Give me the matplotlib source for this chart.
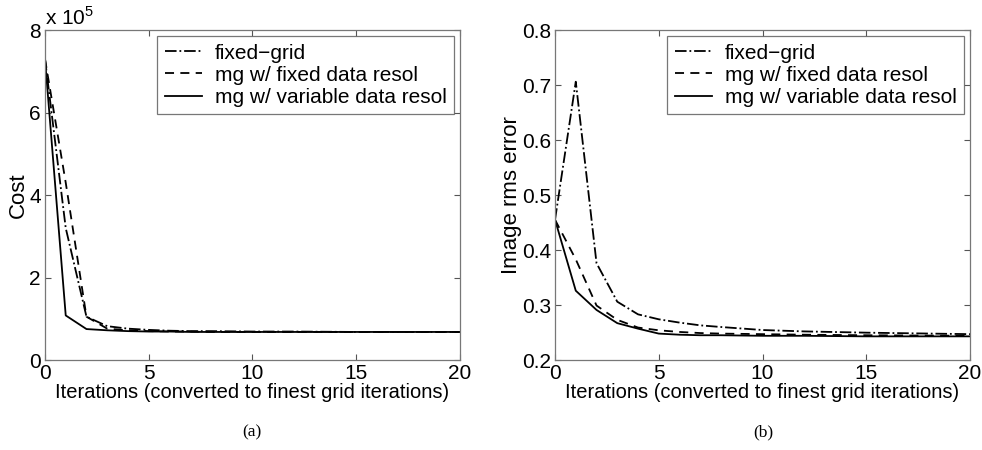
import matplotlib
matplotlib.use("Agg")
import matplotlib.pyplot as plt

iters = [0, 1, 2, 3, 4, 5, 6, 7, 8, 10, 12, 15, 20]

# (a) cost, units of 1e5
cost_fixed = [7.3, 3.2, 1.05, 0.82, 0.76, 0.73, 0.71, 0.70, 0.70, 0.69, 0.69, 0.68, 0.68]
cost_mg_fixed = [7.3, 4.3, 1.05, 0.76, 0.72, 0.70, 0.69, 0.69, 0.68, 0.68, 0.68, 0.68, 0.68]
cost_mg_var = [7.3, 1.08, 0.75, 0.72, 0.70, 0.69, 0.69, 0.68, 0.68, 0.68, 0.68, 0.68, 0.68]

# (b) image rms error
rms_fixed = [0.455, 0.706, 0.376, 0.306, 0.283, 0.274, 0.268, 0.263, 0.260, 0.2545, 0.252, 0.2497, 0.247]
rms_mg_fixed = [0.455, 0.383, 0.299, 0.273, 0.259, 0.254, 0.251, 0.249, 0.248, 0.247, 0.246, 0.245, 0.244]
rms_mg_var = [0.455, 0.326, 0.291, 0.267, 0.257, 0.248, 0.246, 0.245, 0.245, 0.244, 0.244, 0.243, 0.243]

labels = ["fixed\u2212grid", "mg w/ fixed data resol", "mg w/ variable data resol"]
styles = ["-.", (0, (5, 3.5)), "-"]

plt.rcParams["font.family"] = ["Liberation Sans", "DejaVu Sans"]
plt.rcParams["mathtext.fontset"] = "custom"
plt.rcParams["mathtext.rm"] = "Liberation Sans"

fig = plt.figure(figsize=(9.82, 4.5), dpi=100)
ax1 = fig.add_axes([0.0458, 0.2, 0.4226, 0.7333])
ax2 = fig.add_axes([0.5652, 0.2, 0.4226, 0.7333])

for ax, series, ylab in [(ax1, [cost_fixed, cost_mg_fixed, cost_mg_var], "Cost"),
                         (ax2, [rms_fixed, rms_mg_fixed, rms_mg_var], "Image rms error")]:
    for vals, ls, lab in zip(series, styles, labels):
        ax.plot(iters, vals, color="black", linestyle=ls, linewidth=1.3, label=lab)
    ax.set_xlim(0, 20)
    ax.set_xticks([0, 5, 10, 15, 20])
    ax.tick_params(direction="in", top=True, right=True, length=4, width=0.8,
                   color="#555555", labelsize=15, pad=3)
    for sp in ax.spines.values():
        sp.set_color("#777777")
        sp.set_linewidth(0.9)
    ax.set_xlabel("Iterations (converted to finest grid iterations)", fontsize=14.5,
                  labelpad=0)
    ax.set_ylabel(ylab, fontsize=16, labelpad=0)
    leg = ax.legend(loc="upper right", fontsize=15, frameon=True, fancybox=False,
                    handlelength=1.8, handletextpad=0.6, borderpad=0.35,
                    labelspacing=0.15, borderaxespad=0.3)
    leg.get_frame().set_edgecolor("#555555")
    leg.get_frame().set_linewidth(0.9)

ax1.set_ylim(0, 8)
ax1.set_yticks([0, 2, 4, 6, 8])
ax1.text(0.0, 1.005, r"x 10$^5$", transform=ax1.transAxes, fontsize=15,
         ha="left", va="bottom")
ax2.set_ylim(0.2, 0.8)
ax2.set_yticks([0.2, 0.3, 0.4, 0.5, 0.6, 0.7, 0.8])

fig.text(0.257, 0.03, "(a)", family="Liberation Serif", fontsize=12.5, ha="center")
fig.text(0.777, 0.03, "(b)", family="Liberation Serif", fontsize=12.5, ha="center")

fig.savefig("out.png", dpi=100)
